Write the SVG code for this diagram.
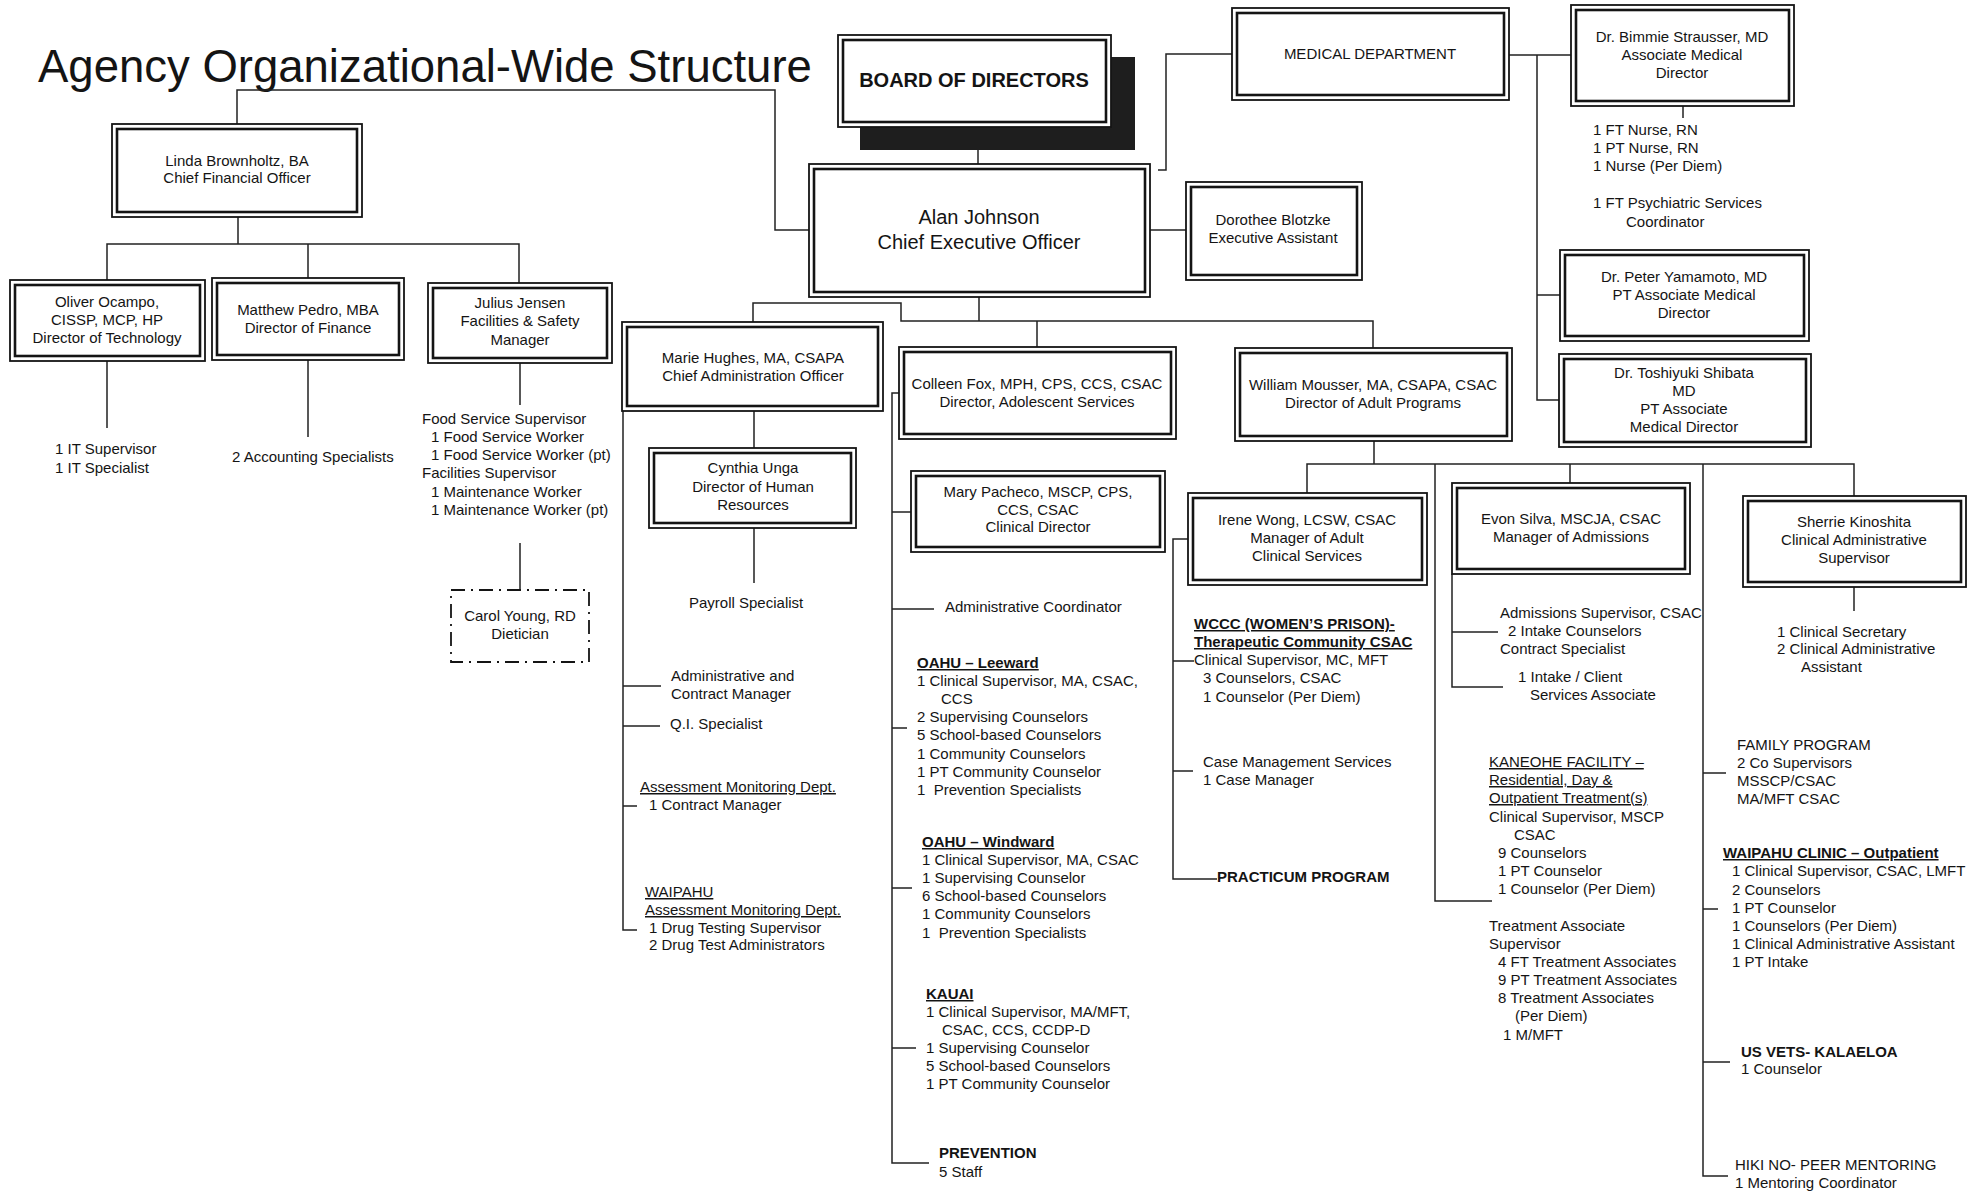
<svg xmlns="http://www.w3.org/2000/svg" width="1982" height="1193" viewBox="0 0 1982 1193">
<style>
text{font-family:"Liberation Sans",Arial,sans-serif;font-size:15px;fill:#141414}
.c{text-anchor:middle}
.b{font-weight:bold}
.u{text-decoration:underline}
.o{fill:#fff;stroke:#141414;stroke-width:1.8}
.i{fill:none;stroke:#141414;stroke-width:2.6}
.ln{fill:none;stroke:#222;stroke-width:1.5}
</style>
<rect width="1982" height="1193" fill="#fff"/>
<text x="38" y="82" style="font-size:45.5px">Agency Organizational-Wide Structure</text>

<g id="connectors" class="ln">
<path d="M237,124 V90 H775 V230 H809"/>
<path d="M238,217 V244 M107,280 V244 H519 V283 M308,244 V278"/>
<path d="M107,361 V428 M308,360 V437 M520,363 V405 M520,543 V590"/>
<path d="M978,150 V164"/>
<path d="M1158,170 H1166 V54 H1232"/>
<path d="M1150,230 H1186"/>
<path d="M1509,55 H1571 M1537,55 V400 H1559 M1537,295 H1560"/>
<path d="M1683,106 V118"/>
<path d="M979,297 V321 M753,322 V303 H901 V321 H1373 V348 M1037,321 V347"/>
<path d="M754,411 V448 M754,528 V583"/>
<path d="M623,411 V930 H637 M623,686 H661 M623,726 H660 M623,806 H637"/>
<path d="M899,393 H892 V1163 H929 M892,512 H911 M892,609 H934 M892,728 H907 M892,888 H912 M892,1048 H916"/>
<path d="M1374,441 V464 M1307,493 V464 H1854 V496 M1570,464 V483 M1435,464 V901 H1492 M1703,464 V1176 H1728"/>
<path d="M1188,539 H1173 V879 H1217 M1173,661 H1194 M1173,771 H1193"/>
<path d="M1452,574 V687 H1503 M1452,632 H1498"/>
<path d="M1854,587 V611"/>
<path d="M1703,773 H1726 M1703,909 H1718 M1703,1062 H1730"/>
</g>

<g id="board">
<rect x="860" y="57" width="275" height="93" fill="#1e1e1e"/>
<rect class="o" x="838" y="35" width="273" height="92"/>
<rect class="i" x="843" y="40" width="263" height="82"/>
<text class="c b" x="974" y="87" style="font-size:20px">BOARD OF DIRECTORS</text>
</g>

<g id="ceo">
<rect class="o" x="809" y="164" width="341" height="133"/>
<rect class="i" x="814" y="169" width="331" height="123"/>
<text class="c" x="979" y="224" style="font-size:20px">Alan Johnson<tspan x="979" y="249">Chief Executive Officer</tspan></text>
</g>

<g id="cfo">
<rect class="o" x="112" y="124" width="250" height="93"/>
<rect class="i" x="117" y="129" width="240" height="83"/>
<text class="c" x="237" y="166">Linda Brownholtz, BA<tspan x="237" y="183">Chief Financial Officer</tspan></text>
</g>

<g id="oliver">
<rect class="o" x="10" y="280" width="195" height="81"/>
<rect class="i" x="15" y="285" width="185" height="71"/>
<text class="c" x="107" y="307">Oliver Ocampo,<tspan x="107" y="325">CISSP, MCP, HP</tspan><tspan x="107" y="343">Director of Technology</tspan></text>
</g>

<g id="matthew">
<rect class="o" x="212" y="278" width="192" height="82"/>
<rect class="i" x="217" y="283" width="182" height="72"/>
<text class="c" x="308" y="315">Matthew Pedro, MBA<tspan x="308" y="333">Director of Finance</tspan></text>
</g>

<g id="julius">
<rect class="o" x="428" y="283" width="184" height="80"/>
<rect class="i" x="433" y="288" width="174" height="70"/>
<text class="c" x="520" y="308">Julius Jensen<tspan x="520" y="326">Facilities &amp; Safety</tspan><tspan x="520" y="345">Manager</tspan></text>
</g>

<g id="it-staff"><text x="55" y="454">1 IT Supervisor<tspan x="55" y="473">1 IT Specialist</tspan></text></g>
<g id="accounting"><text x="232" y="462">2 Accounting Specialists</text></g>
<g id="facilities-staff"><text x="422" y="424">Food Service Supervisor<tspan x="431" y="442">1 Food Service Worker</tspan><tspan x="431" y="460">1 Food Service Worker (pt)</tspan><tspan x="422" y="478">Facilities Supervisor</tspan><tspan x="431" y="497">1 Maintenance Worker</tspan><tspan x="431" y="515">1 Maintenance Worker (pt)</tspan></text></g>

<g id="carol">
<rect x="451" y="590" width="138" height="72" fill="none" stroke="#141414" stroke-width="1.8" stroke-dasharray="14 6 2 6"/>
<text class="c" x="520" y="621">Carol Young, RD<tspan x="520" y="639">Dietician</tspan></text>
</g>

<g id="dorothee">
<rect class="o" x="1186" y="182" width="176" height="98"/>
<rect class="i" x="1191" y="187" width="166" height="88"/>
<text class="c" x="1273" y="225">Dorothee Blotzke<tspan x="1273" y="243">Executive Assistant</tspan></text>
</g>

<g id="medical">
<rect class="o" x="1232" y="8" width="277" height="92"/>
<rect class="i" x="1237" y="13" width="267" height="82"/>
<text class="c" x="1370" y="59">MEDICAL DEPARTMENT</text>
</g>

<g id="bimmie">
<rect class="o" x="1571" y="5" width="223" height="101"/>
<rect class="i" x="1576" y="10" width="213" height="91"/>
<text class="c" x="1682" y="42">Dr. Bimmie Strausser, MD<tspan x="1682" y="60">Associate Medical</tspan><tspan x="1682" y="78">Director</tspan></text>
</g>
<g id="nursing"><text x="1593" y="135">1 FT Nurse, RN<tspan x="1593" y="153">1 PT Nurse, RN</tspan><tspan x="1593" y="171">1 Nurse (Per Diem)</tspan><tspan x="1593" y="208">1 FT Psychiatric Services</tspan><tspan x="1626" y="227">Coordinator</tspan></text></g>

<g id="peter">
<rect class="o" x="1560" y="250" width="249" height="91"/>
<rect class="i" x="1565" y="255" width="239" height="81"/>
<text class="c" x="1684" y="282">Dr. Peter Yamamoto, MD<tspan x="1684" y="300">PT Associate Medical</tspan><tspan x="1684" y="318">Director</tspan></text>
</g>

<g id="toshiyuki">
<rect class="o" x="1559" y="354" width="252" height="93"/>
<rect class="i" x="1564" y="359" width="242" height="83"/>
<text class="c" x="1684" y="378">Dr. Toshiyuki Shibata<tspan x="1684" y="396">MD</tspan><tspan x="1684" y="414">PT Associate</tspan><tspan x="1684" y="432">Medical Director</tspan></text>
</g>

<g id="marie">
<rect class="o" x="622" y="322" width="261" height="89"/>
<rect class="i" x="627" y="327" width="251" height="79"/>
<text class="c" x="753" y="363">Marie Hughes, MA, CSAPA<tspan x="753" y="381">Chief Administration Officer</tspan></text>
</g>

<g id="cynthia">
<rect class="o" x="649" y="448" width="207" height="80"/>
<rect class="i" x="654" y="453" width="197" height="70"/>
<text class="c" x="753" y="473">Cynthia Unga<tspan x="753" y="492">Director of Human</tspan><tspan x="753" y="510">Resources</tspan></text>
</g>

<g id="admin-staff">
<text x="689" y="608">Payroll Specialist</text>
<text x="671" y="681">Administrative and<tspan x="671" y="699">Contract Manager</tspan></text>
<text x="670" y="729">Q.I. Specialist</text>
<text x="640" y="792"><tspan class="u">Assessment Monitoring Dept.</tspan><tspan x="649" y="810">1 Contract Manager</tspan></text>
<text x="645" y="897"><tspan class="u">WAIPAHU</tspan><tspan class="u" x="645" y="915">Assessment Monitoring Dept.</tspan><tspan x="649" y="933">1 Drug Testing Supervisor</tspan><tspan x="649" y="950">2 Drug Test Administrators</tspan></text>
</g>

<g id="colleen">
<rect class="o" x="899" y="347" width="277" height="92"/>
<rect class="i" x="904" y="352" width="267" height="82"/>
<text class="c" x="1037" y="389">Colleen Fox, MPH, CPS, CCS, CSAC<tspan x="1037" y="407">Director, Adolescent Services</tspan></text>
</g>

<g id="mary">
<rect class="o" x="911" y="471" width="254" height="81"/>
<rect class="i" x="916" y="476" width="244" height="71"/>
<text class="c" x="1038" y="497">Mary Pacheco, MSCP, CPS,<tspan x="1038" y="515">CCS, CSAC</tspan><tspan x="1038" y="532">Clinical Director</tspan></text>
</g>

<g id="adolescent-staff">
<text x="945" y="612">Administrative Coordinator</text>
<text x="917" y="668"><tspan class="b u">OAHU – Leeward</tspan><tspan x="917" y="686">1 Clinical Supervisor, MA, CSAC,</tspan><tspan x="941" y="704">CCS</tspan><tspan x="917" y="722">2 Supervising Counselors</tspan><tspan x="917" y="740">5 School-based Counselors</tspan><tspan x="917" y="759">1 Community Counselors</tspan><tspan x="917" y="777">1 PT Community Counselor</tspan><tspan x="917" y="795">1&#160; Prevention Specialists</tspan></text>
<text x="922" y="847"><tspan class="b u">OAHU – Windward</tspan><tspan x="922" y="865">1 Clinical Supervisor, MA, CSAC</tspan><tspan x="922" y="883">1 Supervising Counselor</tspan><tspan x="922" y="901">6 School-based Counselors</tspan><tspan x="922" y="919">1 Community Counselors</tspan><tspan x="922" y="938">1&#160; Prevention Specialists</tspan></text>
<text x="926" y="999"><tspan class="b u">KAUAI</tspan><tspan x="926" y="1017">1 Clinical Supervisor, MA/MFT,</tspan><tspan x="942" y="1035">CSAC, CCS, CCDP-D</tspan><tspan x="926" y="1053">1 Supervising Counselor</tspan><tspan x="926" y="1071">5 School-based Counselors</tspan><tspan x="926" y="1089">1 PT Community Counselor</tspan></text>
<text x="939" y="1158"><tspan class="b">PREVENTION</tspan><tspan x="939" y="1177">5 Staff</tspan></text>
</g>

<g id="william">
<rect class="o" x="1235" y="348" width="277" height="93"/>
<rect class="i" x="1240" y="353" width="267" height="83"/>
<text class="c" x="1373" y="390">William Mousser, MA, CSAPA, CSAC<tspan x="1373" y="408">Director of Adult Programs</tspan></text>
</g>

<g id="irene">
<rect class="o" x="1188" y="493" width="239" height="92"/>
<rect class="i" x="1193" y="498" width="229" height="82"/>
<text class="c" x="1307" y="525">Irene Wong, LCSW, CSAC<tspan x="1307" y="543">Manager of Adult</tspan><tspan x="1307" y="561">Clinical Services</tspan></text>
</g>

<g id="adult-clinical-staff">
<text x="1194" y="629"><tspan class="b u">WCCC (WOMEN’S PRISON)-</tspan><tspan class="b u" x="1194" y="647">Therapeutic Community CSAC</tspan><tspan x="1194" y="665">Clinical Supervisor, MC, MFT</tspan><tspan x="1203" y="683">3 Counselors, CSAC</tspan><tspan x="1203" y="702">1 Counselor (Per Diem)</tspan></text>
<text x="1203" y="767">Case Management Services<tspan x="1203" y="785">1 Case Manager</tspan></text>
<text class="b" x="1217" y="882">PRACTICUM PROGRAM</text>
</g>

<g id="evon">
<rect class="o" x="1452" y="483" width="238" height="91"/>
<rect class="i" x="1457" y="488" width="228" height="81"/>
<text class="c" x="1571" y="524">Evon Silva, MSCJA, CSAC<tspan x="1571" y="542">Manager of Admissions</tspan></text>
</g>

<g id="admissions-staff">
<text x="1500" y="618">Admissions Supervisor, CSAC<tspan x="1508" y="636">2 Intake Counselors</tspan><tspan x="1500" y="654">Contract Specialist</tspan></text>
<text x="1518" y="682">1 Intake / Client<tspan x="1530" y="700">Services Associate</tspan></text>
<text x="1489" y="767"><tspan class="u">KANEOHE FACILITY –</tspan><tspan class="u" x="1489" y="785">Residential, Day &amp;</tspan><tspan class="u" x="1489" y="803">Outpatient Treatment(s)</tspan><tspan x="1489" y="822">Clinical Supervisor, MSCP</tspan><tspan x="1514" y="840">CSAC</tspan><tspan x="1498" y="858">9 Counselors</tspan><tspan x="1498" y="876">1 PT Counselor</tspan><tspan x="1498" y="894">1 Counselor (Per Diem)</tspan></text>
<text x="1489" y="931">Treatment Associate<tspan x="1489" y="949">Supervisor</tspan><tspan x="1498" y="967">4 FT Treatment Associates</tspan><tspan x="1498" y="985">9 PT Treatment Associates</tspan><tspan x="1498" y="1003">8 Treatment Associates</tspan><tspan x="1515" y="1021">(Per Diem)</tspan><tspan x="1503" y="1040">1 M/MFT</tspan></text>
</g>

<g id="sherrie">
<rect class="o" x="1743" y="496" width="223" height="91"/>
<rect class="i" x="1748" y="501" width="213" height="81"/>
<text class="c" x="1854" y="527">Sherrie Kinoshita<tspan x="1854" y="545">Clinical Administrative</tspan><tspan x="1854" y="563">Supervisor</tspan></text>
</g>

<g id="clinical-admin-staff">
<text x="1777" y="637">1 Clinical Secretary<tspan x="1777" y="654">2 Clinical Administrative</tspan><tspan x="1801" y="672">Assistant</tspan></text>
<text x="1737" y="750">FAMILY PROGRAM<tspan x="1737" y="768">2 Co Supervisors</tspan><tspan x="1737" y="786">MSSCP/CSAC</tspan><tspan x="1737" y="804">MA/MFT CSAC</tspan></text>
<text x="1723" y="858"><tspan class="b u">WAIPAHU CLINIC – Outpatient</tspan><tspan x="1732" y="876">1 Clinical Supervisor, CSAC, LMFT</tspan><tspan x="1732" y="895">2 Counselors</tspan><tspan x="1732" y="913">1 PT Counselor</tspan><tspan x="1732" y="931">1 Counselors (Per Diem)</tspan><tspan x="1732" y="949">1 Clinical Administrative Assistant</tspan><tspan x="1732" y="967">1 PT Intake</tspan></text>
<text x="1741" y="1057"><tspan class="b">US VETS- KALAELOA</tspan><tspan x="1741" y="1074">1 Counselor</tspan></text>
<text x="1735" y="1170">HIKI NO- PEER MENTORING<tspan x="1735" y="1188">1 Mentoring Coordinator</tspan></text>
</g>
</svg>
